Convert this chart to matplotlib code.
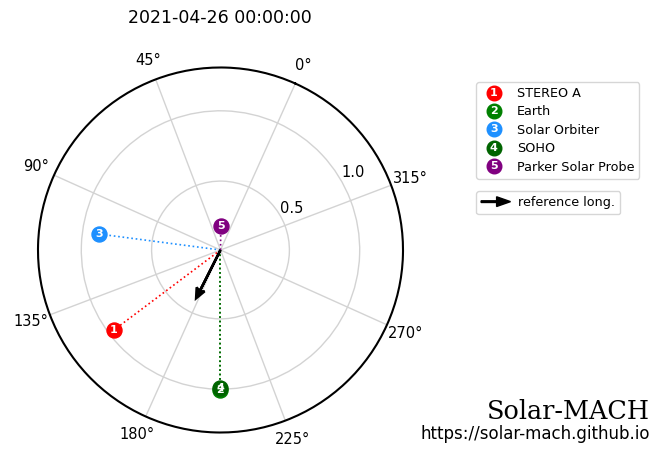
import matplotlib
matplotlib.use('Agg')
import matplotlib.pyplot as plt
import numpy as np
from matplotlib.legend_handler import HandlerBase
from matplotlib.lines import Line2D
from matplotlib.text import Text
from matplotlib.patches import FancyArrow

# datos
fecha = '2021-04-26 00:00:00'
cuerpos = ['STEREO A', 'Earth', 'Solar Orbiter', 'SOHO', 'Parker Solar Probe']
colores = ['red', 'green', 'dodgerblue', 'darkgreen', 'purple']
longitudes = [151.1, 204.2, 106.7, 204.2, 23.5]   # grados (Carrington)
distancias = [0.959, 1.004, 0.880, 0.990, 0.178]  # AU
E_long = 204.2
ref_long = 177.4
max_dist = 1.008
theta_ticks = [0, 45, 90, 135, 180, 225, 270, 315]
r_ticks = [0.5, 1.0]


class HandlerNumero(HandlerBase):
    def create_artists(self, legend, orig_handle, xdescent, ydescent,
                       width, height, fontsize, trans):
        x = width / 2 - xdescent
        y = height / 2 - ydescent
        c = Line2D([x], [y], marker='o', ms=10.5, linestyle='none',
                   color=orig_handle.get_color(), transform=trans)
        t = Text(x, y, orig_handle.get_gid(), color='white', fontsize=8,
                 weight='heavy', ha='center', va='center', transform=trans)
        return [c, t]


class HandlerFlecha(HandlerBase):
    def create_artists(self, legend, orig_handle, xdescent, ydescent,
                       width, height, fontsize, trans):
        y = height / 2 - ydescent
        a = FancyArrow(-xdescent, y, width, 0, width=1.2, head_width=7,
                       head_length=10, length_includes_head=True,
                       color='k', transform=trans)
        return [a]


fig = plt.figure(figsize=(6.68, 4.51), dpi=100)
ax = fig.add_axes([38 / 668, (451 - 432.5) / 451, 365 / 668, 365 / 451],
                  projection='polar')

ax.set_theta_offset(np.deg2rad(270 - E_long))
ax.set_rmin(0.01)
ax.set_rmax(max_dist + 0.3)

handles = []
for i in range(len(cuerpos)):
    th = np.deg2rad(longitudes[i])
    ax.plot([th, th], [0.01, distancias[i]], ':', color=colores[i], lw=1.2, zorder=3)
for i in range(len(cuerpos)):
    th = np.deg2rad(longitudes[i])
    h, = ax.plot(th, distancias[i], 'o', ms=10.8, color=colores[i],
                 label=cuerpos[i], zorder=4)
    h.set_gid(str(i + 1))
    handles.append(h)
    ax.annotate(str(i + 1), xy=(th, distancias[i]), color='white',
                fontsize=8, weight='heavy', ha='center', va='center', zorder=5)

arrow_dist = min(max_dist / 3.2, 2.)
ax.arrow(np.deg2rad(ref_long), 0.01, 0, arrow_dist, head_width=0.2,
         head_length=0.07, edgecolor='black', facecolor='black', lw=1.8,
         zorder=5, overhang=0.2)

ax.set_thetagrids(theta_ticks, [f'{t}°' for t in theta_ticks], fontsize=10.5)
ax.set_rgrids(r_ticks, [str(r) for r in r_ticks], angle=E_long + 120, fontsize=10.5)
ax.set_rmax(max_dist + 0.3)
ax.set_rmin(0.01)
ax.grid(True, color='#d3d3d3', lw=1)
ax.spines['polar'].set_linewidth(1.5)
ax.tick_params(axis='x', pad=4)

fig.text(220 / 668, 1 - 23 / 451, fecha, ha='center', va='baseline', fontsize=12.5)

leg1 = fig.legend(handles=handles, handler_map={Line2D: HandlerNumero()},
                  loc='upper left', bbox_to_anchor=(476 / 668, 1 - 82 / 451),
                  fontsize=9.2, labelspacing=0.42, handletextpad=0.8,
                  borderaxespad=0)
flecha = Line2D([], [], color='k', label='reference long.')
leg2 = fig.legend(handles=[flecha], handler_map={Line2D: HandlerFlecha()},
                  loc='upper left', bbox_to_anchor=(476 / 668, 1 - 191 / 451),
                  fontsize=9.2, handlelength=2.3, handletextpad=0.6,
                  borderaxespad=0)

fig.text(650 / 668, 1 - 419 / 451, 'Solar-MACH', ha='right', va='baseline',
         fontsize=18.4, family='DejaVu Serif')
fig.text(650 / 668, 1 - 439 / 451, 'https://solar-mach.github.io', ha='right',
         va='baseline', fontsize=12)

fig.savefig('out.png', dpi=100)
